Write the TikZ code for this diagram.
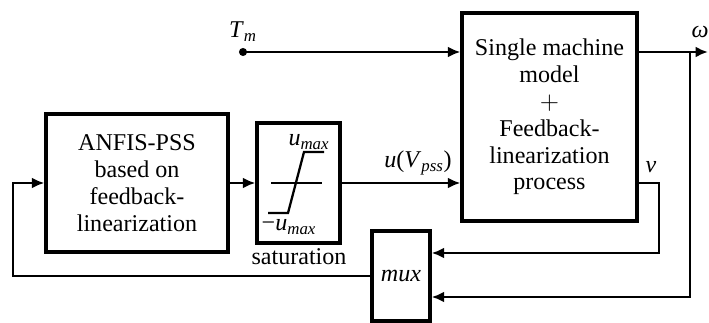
\documentclass[tikz,border=0pt]{standalone}
\usepackage{fontspec}
\setmainfont{Liberation Serif}[Ligatures=TeX]
\newfontfamily\csfont{Liberation Serif}
\usepackage{tikz}
\usetikzlibrary{arrows.meta,positioning}
\tikzset{
  cs diagram/.style={x=0.02cm, y=-0.02cm,
    font=\csfont\fontsize{13.7}{15.3}\selectfont, line join=miter},
  cs box/.style={draw, line width=1.9pt, align=center, inner sep=0pt},
  cs arrow/.style={-{Latex[length=2.5mm,width=2.2mm]}, line width=1.6pt},
  cs curve/.style={line width=1.3pt},
  cs label/.style={inner sep=1pt}
}

\begin{document}
\begin{tikzpicture}[cs diagram]
\useasboundingbox (0,0) rectangle (709,323);
% blocks
\node[cs box, minimum width=3.64cm, minimum height=2.76cm] (anfis) at (137,183)
  {ANFIS-PSS\\based on\\feedback-\\linearization};
\node[cs box, minimum width=1.66cm, minimum height=2.4cm] (sat) at (298.5,183) {};
\node[cs box, minimum width=3.5cm, minimum height=4.16cm] (model) at (549.5,117)
  {Single machine\\model\\$+$\\Feedback-\\linearization\\process};
\node[cs box, minimum width=1.16cm, minimum height=1.8cm] (mux) at (401,276) {\textit{mux}};
% saturation curve
\draw[cs curve] (271,183) -- (322,183);
\draw[cs curve] (268,213) -- (288,213) -- (304,152) -- (324,152);
\node[cs label] (umax) at (309,142) {\textit{u}\textsubscript{\textit{max}}};
\node[cs label] (uminus) at (289,227) {−\textit{u}\textsubscript{\textit{max}}};
\node[cs label] (satlabel) at (299,257) {saturation};
% turning points
\coordinate (tm) at (243,52);
\coordinate (wtap) at (690,52);
\coordinate (wout) at (708,52);
\coordinate (wdown) at (690,297);
\coordinate (vout) at (659,183);
\coordinate (vin) at (659,253);
\coordinate (fbcorner) at (13,276);
% connectors
\fill (tm) circle (2.3pt);
\node[cs label] (tmlabel) at (243,32) {\textit{T}\textsubscript{\textit{m}}};
\draw[cs arrow] (tm) -- (tm -| model.west);
\draw[cs arrow] (model.east |- tm) -- (wout);
\node[cs label] (wlabel) at (700,32) {\textit{ω}};
\draw[cs arrow] (anfis) -- (sat);
\draw[cs arrow] (sat.east) -- (sat.east -| model.west);
\node[cs label] (ulabel) at (418,163) {\textit{u}(\textit{V}\textsubscript{\textit{pss}})};
\draw[cs arrow] (model.east |- vout) -- (vout) -- (vin) -- (vin -| mux.east);
\node[cs label] (vlabel) at (651,167) {\textit{v}};
\draw[cs arrow] (wtap) -- (wdown) -- (wdown -| mux.east);
\draw[cs arrow] (mux.west) -- (fbcorner) |- (anfis.west);
\end{tikzpicture}
\end{document}
